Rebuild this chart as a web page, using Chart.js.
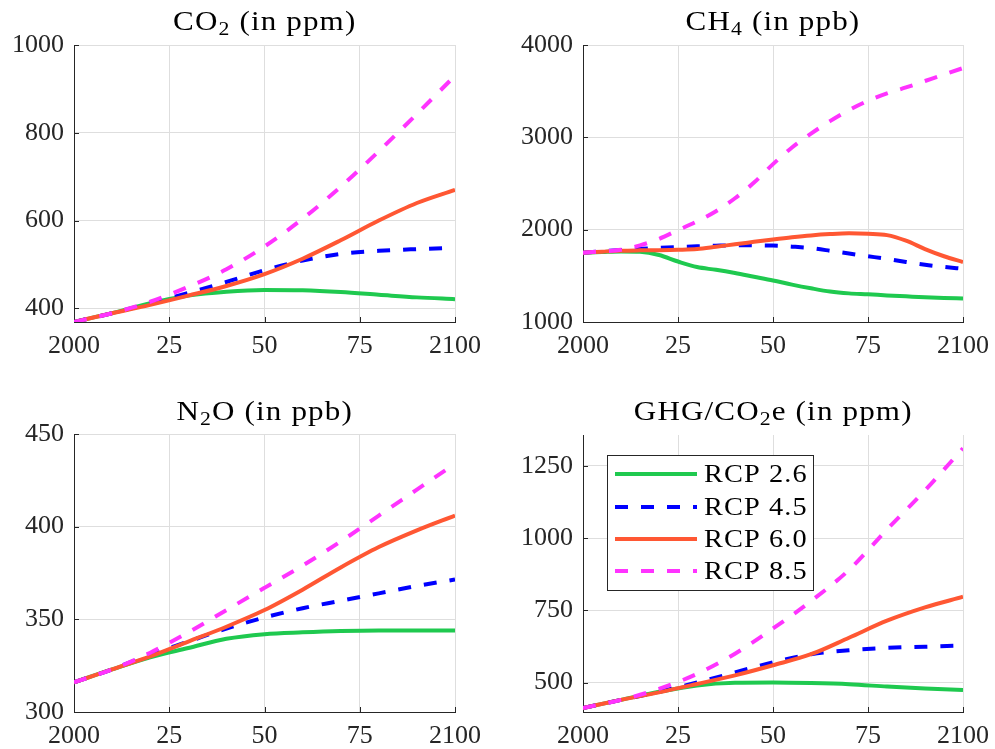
<!DOCTYPE html>
<html>
<head>
<meta charset="utf-8">
<script src="https://cdn.jsdelivr.net/npm/chart.js@4.4.1/dist/chart.umd.min.js"></script>
<style>
  html, body { margin: 0; padding: 0; background: #fff; }
  #wrap { position: relative; width: 995px; height: 749px; background: #fff; overflow: hidden; }
  .cv { position: absolute; }
  .title { position: absolute; text-align: center; font-family: "Liberation Serif", serif; font-size: 27px; color: #000; height: 30px; line-height: 30px; white-space: nowrap; }
  .title span { display: inline-block; letter-spacing: 1px; transform: scaleX(1.15); transform-origin: 50% 50%; }
  .title sub { font-size: 0.7em; vertical-align: -0.28em; line-height: 0; }
</style>
</head>
<body>
<div id="wrap">
  <canvas id="c1" class="cv"></canvas>
  <canvas id="c2" class="cv"></canvas>
  <canvas id="c3" class="cv"></canvas>
  <canvas id="c4" class="cv"></canvas>
  <div class="title" id="t1"><span>CO<sub>2</sub> (in ppm)</span></div>
  <div class="title" id="t2"><span>CH<sub>4</sub> (in ppb)</span></div>
  <div class="title" id="t3"><span>N<sub>2</sub>O (in ppb)</span></div>
  <div class="title" id="t4"><span>GHG/CO<sub>2</sub>e (in ppm)</span></div>
</div>
<script>
// ---------------- DATA ----------------
const scenarios = ['RCP 2.6', 'RCP 4.5', 'RCP 6.0', 'RCP 8.5'];
const years10 = [2000, 2010, 2020, 2030, 2040, 2050, 2060, 2070, 2080, 2090, 2100];
const years5 = [2000, 2005, 2010, 2015, 2020, 2025, 2030, 2035, 2040, 2045, 2050,
                2055, 2060, 2065, 2070, 2075, 2080, 2085, 2090, 2095, 2100];

const xTicks = [2000, 2025, 2050, 2075, 2100];
const xTickLabels = ['2000', '25', '50', '75', '2100'];

// CO2 (ppm), 10-year steps
const co2_26 = [369, 389, 412, 429, 438, 442, 441, 437, 431, 425, 421];
const co2_45 = [369, 389, 411, 435, 460, 487, 509, 524, 531, 535, 538];
const co2_60 = [369, 389, 408, 429, 451, 478, 513, 555, 600, 640, 670];
const co2_85 = [369, 389, 415, 449, 489, 541, 604, 677, 758, 843, 930];
const co2Ticks = [400, 600, 800, 1000];

// CH4 (ppb), 5-year steps
const ch4_26 = [1751, 1758, 1764, 1760, 1725, 1655, 1595, 1565, 1530, 1490, 1450,
                1405, 1365, 1330, 1310, 1300, 1288, 1278, 1268, 1260, 1254];
const ch4_45 = [1751, 1765, 1780, 1792, 1803, 1812, 1820, 1826, 1830, 1830, 1828,
                1816, 1800, 1772, 1741, 1712, 1683, 1650, 1620, 1597, 1576];
const ch4_60 = [1751, 1762, 1772, 1776, 1778, 1782, 1790, 1815, 1842, 1868, 1894,
                1918, 1938, 1952, 1960, 1955, 1941, 1880, 1790, 1712, 1650];
const ch4_85 = [1751, 1765, 1782, 1830, 1900, 1995, 2090, 2200, 2340, 2510, 2710,
                2890, 3040, 3175, 3295, 3395, 3475, 3540, 3610, 3680, 3750];
const ch4Ticks = [1000, 2000, 3000, 4000];

// N2O (ppb), 10-year steps
const n2o_26 = [316, 323, 329.5, 334.5, 339.5, 342, 343, 343.7, 344, 344, 344];
const n2o_45 = [316, 323, 331, 338, 345, 351, 356, 360, 364, 368, 371.5];
const n2o_60 = [316, 323, 330, 338, 346, 355, 366, 378, 389, 398, 406];
const n2o_85 = [316, 323, 332, 343, 355, 367, 379, 392, 406, 420, 434];
const n2oTicks = [300, 350, 400, 450];

// GHG / CO2e (ppm), 10-year steps
const ghg_26 = [412, 440, 468, 490, 499, 500, 498, 494, 486, 479, 474];
const ghg_45 = [412, 440, 468, 500, 535, 570, 598, 612, 620, 624, 628];
const ghg_60 = [412, 440, 466, 495, 525, 560, 598, 655, 714, 760, 797];
const ghg_85 = [412, 440, 478, 530, 600, 687, 782, 890, 1030, 1165, 1311];
const ghgTicks = [500, 750, 1000, 1250];

// ---------------- STYLE ----------------
const colors = ['#1fc94f', '#0000ff', '#ff5733', '#ff33ff'];
const dashes = [[], [13, 13], [], [13, 13]];
const FONT = '"Liberation Serif", serif';
const AXIS = '#262626';
const GRID = '#dedede';

function mkDatasets(years, series) {
  return series.map((vals, i) => ({
    label: scenarios[i],
    data: years.map((y, k) => ({ x: y, y: vals[k] })),
    borderColor: colors[i],
    backgroundColor: colors[i],
    borderWidth: 4,
    borderDash: dashes[i],
    borderCapStyle: 'butt',
    pointRadius: 0,
    fill: false,
    cubicInterpolationMode: 'monotone',
    order: 4 - i
  }));
}

const innerTicks = {
  id: 'innerTicks',
  beforeDatasetsDraw(chart) {
    const ctx = chart.ctx, a = chart.chartArea;
    const xs = chart.scales.x, ys = chart.scales.y;
    ctx.save();
    ctx.strokeStyle = AXIS;
    ctx.lineWidth = 1;
    ctx.beginPath();
    xs.ticks.forEach(t => {
      const px = Math.round(xs.getPixelForValue(t.value)) + 0.5;
      ctx.moveTo(px, a.bottom);
      ctx.lineTo(px, a.bottom - 5);
    });
    ys.ticks.forEach(t => {
      const py = Math.round(ys.getPixelForValue(t.value)) + 0.5;
      ctx.moveTo(a.left, py);
      ctx.lineTo(a.left + 5, py);
    });
    ctx.stroke();
    ctx.restore();
  }
};

const insetLegend = {
  id: 'insetLegend',
  afterDraw(chart, args, opts) {
    if (!opts || !opts.show) return;
    const ctx = chart.ctx;
    const L = opts.left, T = opts.top, R = opts.right, B = opts.bottom;
    ctx.save();
    ctx.fillStyle = '#fff';
    ctx.fillRect(L, T, R - L, B - T);
    ctx.strokeStyle = AXIS;
    ctx.lineWidth = 1;
    ctx.strokeRect(L + 0.5, T + 0.5, R - L - 1, B - T - 1);
    scenarios.forEach((name, i) => {
      const y = opts.rows[i];
      ctx.beginPath();
      ctx.strokeStyle = colors[i];
      ctx.lineWidth = 4;
      ctx.lineCap = 'butt';
      ctx.setLineDash(dashes[i]);
      ctx.moveTo(opts.lineX0, y);
      ctx.lineTo(opts.lineX1, y);
      ctx.stroke();
      ctx.setLineDash([]);
      ctx.save();
      ctx.fillStyle = '#000';
      ctx.font = '26px ' + FONT;
      if ('letterSpacing' in ctx) ctx.letterSpacing = '1px';
      ctx.textBaseline = 'middle';
      ctx.textAlign = 'left';
      ctx.translate(opts.textX, y + 1);
      ctx.scale(1.09, 1);
      ctx.fillText(name, 0, 0);
      ctx.restore();
    });
    ctx.restore();
  }
};

function makeChart(cfg) {
  const cv = document.getElementById(cfg.id);
  cv.width = cfg.w; cv.height = cfg.h;
  cv.style.left = cfg.x + 'px'; cv.style.top = cfg.y + 'px';
  cv.style.width = cfg.w + 'px'; cv.style.height = cfg.h + 'px';
  new Chart(cv, {
    type: 'line',
    data: { datasets: mkDatasets(cfg.years, cfg.series) },
    plugins: [innerTicks, insetLegend],
    options: {
      responsive: false,
      animation: false,
      events: [],
      layout: { padding: { top: cfg.padTop, right: cfg.padRight, left: 0, bottom: 0 } },
      plugins: {
        legend: { display: false },
        tooltip: { enabled: false },
        title: { display: false },
        insetLegend: cfg.legend || { show: false }
      },
      scales: {
        x: {
          type: 'linear',
          min: 2000, max: 2100,
          afterBuildTicks: s => { s.ticks = xTicks.map(v => ({ value: v })); },
          afterFit: s => { s.height = cfg.xH; },
          ticks: {
            callback: v => xTickLabels[xTicks.indexOf(v)],
            font: { family: FONT, size: 26 },
            color: AXIS,
            padding: 9,
            maxRotation: 0,
            autoSkip: false
          },
          grid: { color: GRID, lineWidth: 1, drawTicks: false },
          border: { display: true, color: AXIS, width: 1 }
        },
        y: {
          type: 'linear',
          min: cfg.ymin, max: cfg.ymax,
          afterBuildTicks: s => { s.ticks = cfg.yTicks.map(v => ({ value: v })); },
          afterFit: s => { s.width = cfg.yW; },
          ticks: {
            callback: v => String(v),
            font: { family: FONT, size: 26 },
            color: AXIS,
            padding: 10,
            autoSkip: false
          },
          grid: { color: GRID, lineWidth: 1, drawTicks: false },
          border: { display: true, color: AXIS, width: 1 }
        }
      }
    }
  });
}

// chart areas (page coords): left col 74..455, right col 583..963; top row 45..322, bottom row 434..712
makeChart({ id: 'c1', x: 0, y: 0, w: 497, h: 372, yW: 74, padTop: 45, padRight: 42, xH: 50,
  years: years10, series: [co2_26, co2_45, co2_60, co2_85], ymin: 368.9, ymax: 1000, yTicks: co2Ticks });
makeChart({ id: 'c2', x: 497, y: 0, w: 512, h: 372, yW: 86, padTop: 45, padRight: 46, xH: 50,
  years: years5, series: [ch4_26, ch4_45, ch4_60, ch4_85], ymin: 1000, ymax: 4000, yTicks: ch4Ticks });
makeChart({ id: 'c3', x: 0, y: 372, w: 497, h: 377, yW: 74, padTop: 62, padRight: 42, xH: 37,
  years: years10, series: [n2o_26, n2o_45, n2o_60, n2o_85], ymin: 300, ymax: 450, yTicks: n2oTicks });
makeChart({ id: 'c4', x: 497, y: 372, w: 512, h: 377, yW: 86, padTop: 63, padRight: 46, xH: 37,
  years: years10, series: [ghg_26, ghg_45, ghg_60, ghg_85], ymin: 398, ymax: 1357, yTicks: ghgTicks,
  legend: { show: true, left: 110, top: 83, right: 317, bottom: 219, lineX0: 118, lineX1: 200, textX: 207,
            rows: [102, 135, 167, 199] } });

// titles centred over plot areas
function placeTitle(id, left, right, cy) {
  const el = document.getElementById(id);
  el.style.left = left + 'px';
  el.style.width = (right - left) + 'px';
  el.style.top = (cy - 15) + 'px';
}
placeTitle('t1', 74, 455, 21);
placeTitle('t2', 583, 963, 21);
placeTitle('t3', 74, 455, 411);
placeTitle('t4', 583, 963, 411);
</script>
</body>
</html>
